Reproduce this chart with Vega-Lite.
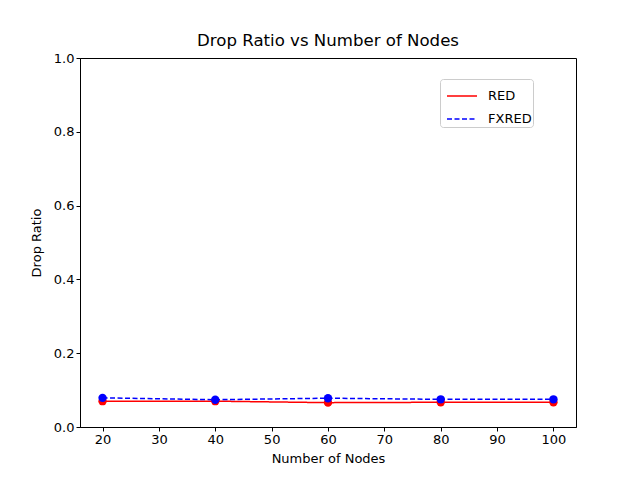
{
  "$schema": "https://vega.github.io/schema/vega-lite/v6.json",
  "autosize": {"type": "none"},
  "padding": {"left": 80, "top": 58, "right": 64, "bottom": 53},
  "width": 496,
  "height": 369,
  "background": "white",
  "title": {"text": "Drop Ratio vs Number of Nodes", "font": "DejaVu Sans", "fontSize": 16.6, "fontWeight": "normal", "offset": 2, "color": "black"},
  "config": {
    "view": {"stroke": "black", "strokeWidth": 1},
    "axis": {"labelFont": "DejaVu Sans", "titleFont": "DejaVu Sans", "labelFontSize": 13, "titleFontSize": 13, "titleFontWeight": "normal", "grid": false, "domainColor": "black", "tickColor": "black", "labelColor": "black", "titleColor": "black", "tickSize": 4}
  },
  "data": {"values": [
    {"nodes": 20, "ratio": 0.070, "series": "RED"},
    {"nodes": 40, "ratio": 0.070, "series": "RED"},
    {"nodes": 60, "ratio": 0.066, "series": "RED"},
    {"nodes": 80, "ratio": 0.067, "series": "RED"},
    {"nodes": 100, "ratio": 0.067, "series": "RED"},
    {"nodes": 20, "ratio": 0.079, "series": "FXRED"},
    {"nodes": 40, "ratio": 0.074, "series": "FXRED"},
    {"nodes": 60, "ratio": 0.078, "series": "FXRED"},
    {"nodes": 80, "ratio": 0.075, "series": "FXRED"},
    {"nodes": 100, "ratio": 0.075, "series": "FXRED"}
  ]},
  "encoding": {
    "x": {"field": "nodes", "type": "quantitative", "title": "Number of Nodes", "scale": {"domain": [16, 104], "nice": false, "zero": false}, "axis": {"values": [20,30,40,50,60,70,80,90,100], "titlePadding": 6}},
    "y": {"field": "ratio", "type": "quantitative", "title": "Drop Ratio", "scale": {"domain": [0, 1], "nice": false}, "axis": {"values": [0,0.2,0.4,0.6,0.8,1.0], "format": ".1f", "titlePadding": 10}},
    "color": {"field": "series", "type": "nominal", "scale": {"domain": ["RED", "FXRED"], "range": ["red", "blue"]}}
  },
  "layer": [
    {
      "mark": {"type": "line", "strokeWidth": 1.5},
      "encoding": {
        "strokeDash": {"field": "series", "type": "nominal", "scale": {"domain": ["RED", "FXRED"], "range": [[1, 0], [5, 2.5]]}},
        "color": {"field": "series", "type": "nominal", "scale": {"domain": ["RED", "FXRED"], "range": ["red", "blue"]},
          "legend": {"title": null, "orient": "none", "legendX": 360, "legendY": 21, "symbolType": "stroke", "symbolSize": 900, "symbolStrokeWidth": 1.5, "labelFont": "DejaVu Sans", "labelFontSize": 13, "labelColor": "black", "strokeColor": "#cccccc", "fillColor": "white", "padding": 1, "cornerRadius": 3, "rowPadding": 0, "labelOffset": 10, "symbolOffset": 5}}
      }
    },
    {
      "mark": {"type": "point", "filled": true, "size": 70, "opacity": 1},
      "encoding": {"color": {"field": "series", "type": "nominal", "scale": {"domain": ["RED", "FXRED"], "range": ["red", "blue"]}, "legend": null}}
    }
  ]
}
